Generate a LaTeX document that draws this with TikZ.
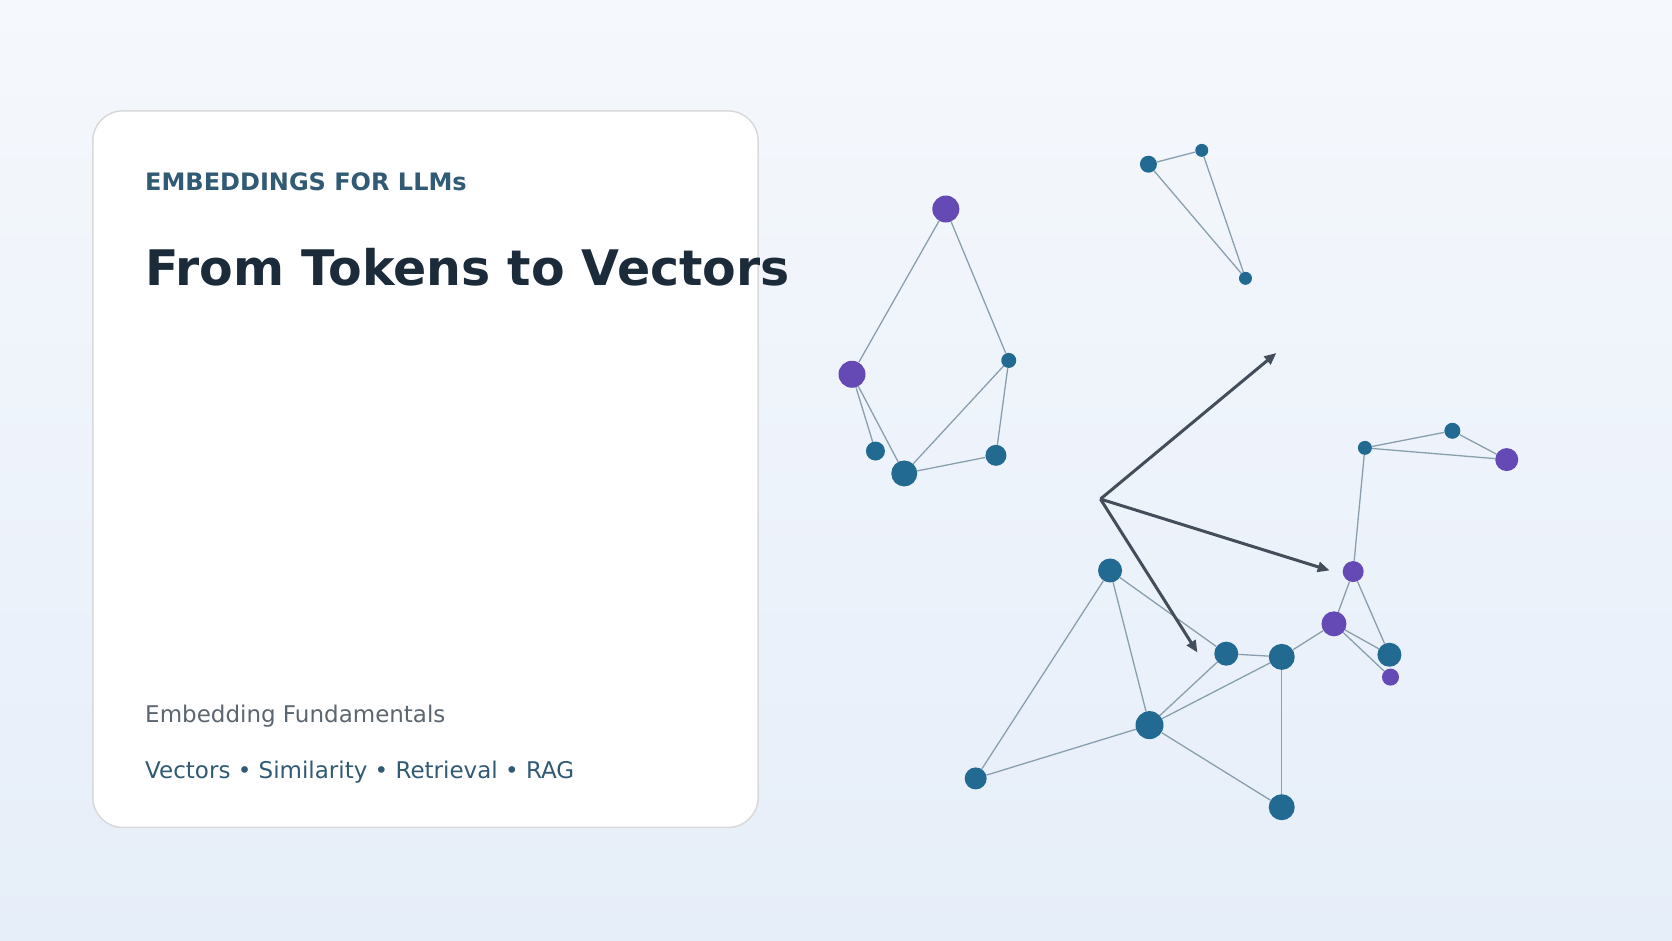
\documentclass[tikz,border=0pt]{standalone}
\usepackage{fontspec}
\setmainfont{DejaVu Sans}
\usetikzlibrary{arrows.meta}
\definecolor{bgtop}{HTML}{F5F8FC}
\definecolor{bgbot}{HTML}{E6EEF9}
\definecolor{teal}{HTML}{226A92}
\definecolor{violet}{HTML}{6549B5}
\definecolor{edgec}{HTML}{8A9FAE}
\definecolor{arrowc}{HTML}{434E5A}
\definecolor{kicker}{HTML}{315A74}
\definecolor{titlec}{HTML}{1B2B3A}
\definecolor{greyc}{HTML}{5C6670}
\tikzset{
  pt/.style={circle,fill=teal,inner sep=0pt,minimum size=#1},
  pv/.style={circle,fill=violet,inner sep=0pt,minimum size=#1},
  link/.style={edgec,line width=1.3pt},
  vec/.style={arrowc,line width=3pt,-{Triangle[length=12pt,width=10pt]}}
}
\begin{document}
\begin{tikzpicture}[x=1.0664pt,y=-1.0664pt]
\shade[top color=bgtop,bottom color=bgbot] (0,0) rectangle (1568,882);
\useasboundingbox (0,0) rectangle (1568,882);
% card
\draw[fill=white,draw=black!15,line width=1.5pt,rounded corners=30pt] (87,104) rectangle (711,776);
\node[anchor=base west,inner sep=0pt,text=kicker,font=\fontsize{24}{28}\selectfont\bfseries] (kick) at (136,179) {EMBEDDINGS FOR LLMs};
\node[anchor=base west,inner sep=0pt,text=titlec,font=\fontsize{49}{56}\selectfont\bfseries] (title) at (136,268) {From Tokens to Vectors};
\node[anchor=base west,inner sep=0pt,text=greyc,font=\fontsize{23}{27}\selectfont] (sub) at (136,678) {Embedding Fundamentals};
\node[anchor=base west,inner sep=0pt,text=kicker,font=\fontsize{23}{27}\selectfont] (tags) at (136,730) {Vectors • Similarity • Retrieval • RAG};
% cluster one
\node[pv=27pt] (p1) at (887,196) {};
\node[pv=27pt] (p2) at (799,351) {};
\node[pt=15pt] (a) at (946,338) {};
\node[pt=21pt] (b) at (934,427) {};
\node[pt=19pt] (c) at (821,423) {};
\node[pt=26pt] (d) at (848,444) {};
% cluster two
\node[pt=17pt] (e) at (1077,154) {};
\node[pt=13pt] (f) at (1127,141) {};
\node[pt=13pt] (g) at (1168,261) {};
% cluster three
\node[pt=14pt] (h) at (1280,420) {};
\node[pt=16pt] (i) at (1362,404) {};
\node[pv=23pt] (p3) at (1413,431) {};
\node[pv=21pt] (p4) at (1269,536) {};
\node[pv=25pt] (p5) at (1251,585) {};
\node[pt=24pt] (j) at (1303,614) {};
\node[pv=17pt] (p6) at (1304,635) {};
\node[pt=26pt] (k) at (1202,616) {};
\node[pt=24pt] (l) at (1150,613) {};
\node[pt=24pt] (m) at (1041,535) {};
\node[pt=28pt] (n) at (1078,680) {};
\node[pt=22pt] (o) at (915,730) {};
\node[pt=26pt] (q) at (1202,757) {};
\begin{scope}[on background layer/.style={}]
\foreach \s/\t in {p1/p2,p1/a,p2/c,p2/d,a/d,a/b,d/b,e/f,f/g,e/g,h/i,i/p3,h/p3,h/p4,
  p4/p5,p4/j,p5/j,p5/p6,p5/k,k/l,m/l,m/n,m/o,o/n,n/l,n/k,n/q,k/q}
  \draw[link] (\s) -- (\t);
\end{scope}
% redraw dots over links
\foreach \v/\c in {p1/violet,p2/violet,p3/violet,p4/violet,p5/violet,p6/violet}
  \fill[\c] (\v) circle (0pt);
% vectors
\coordinate (o0) at (1032,468);
\coordinate (v1) at (1197,331);
\coordinate (v2) at (1247,535);
\coordinate (v3) at (1123,612);
\draw[vec] (o0) -- (v1);
\draw[vec] (o0) -- (v2);
\draw[vec] (o0) -- (v3);
\end{tikzpicture}
\end{document}
